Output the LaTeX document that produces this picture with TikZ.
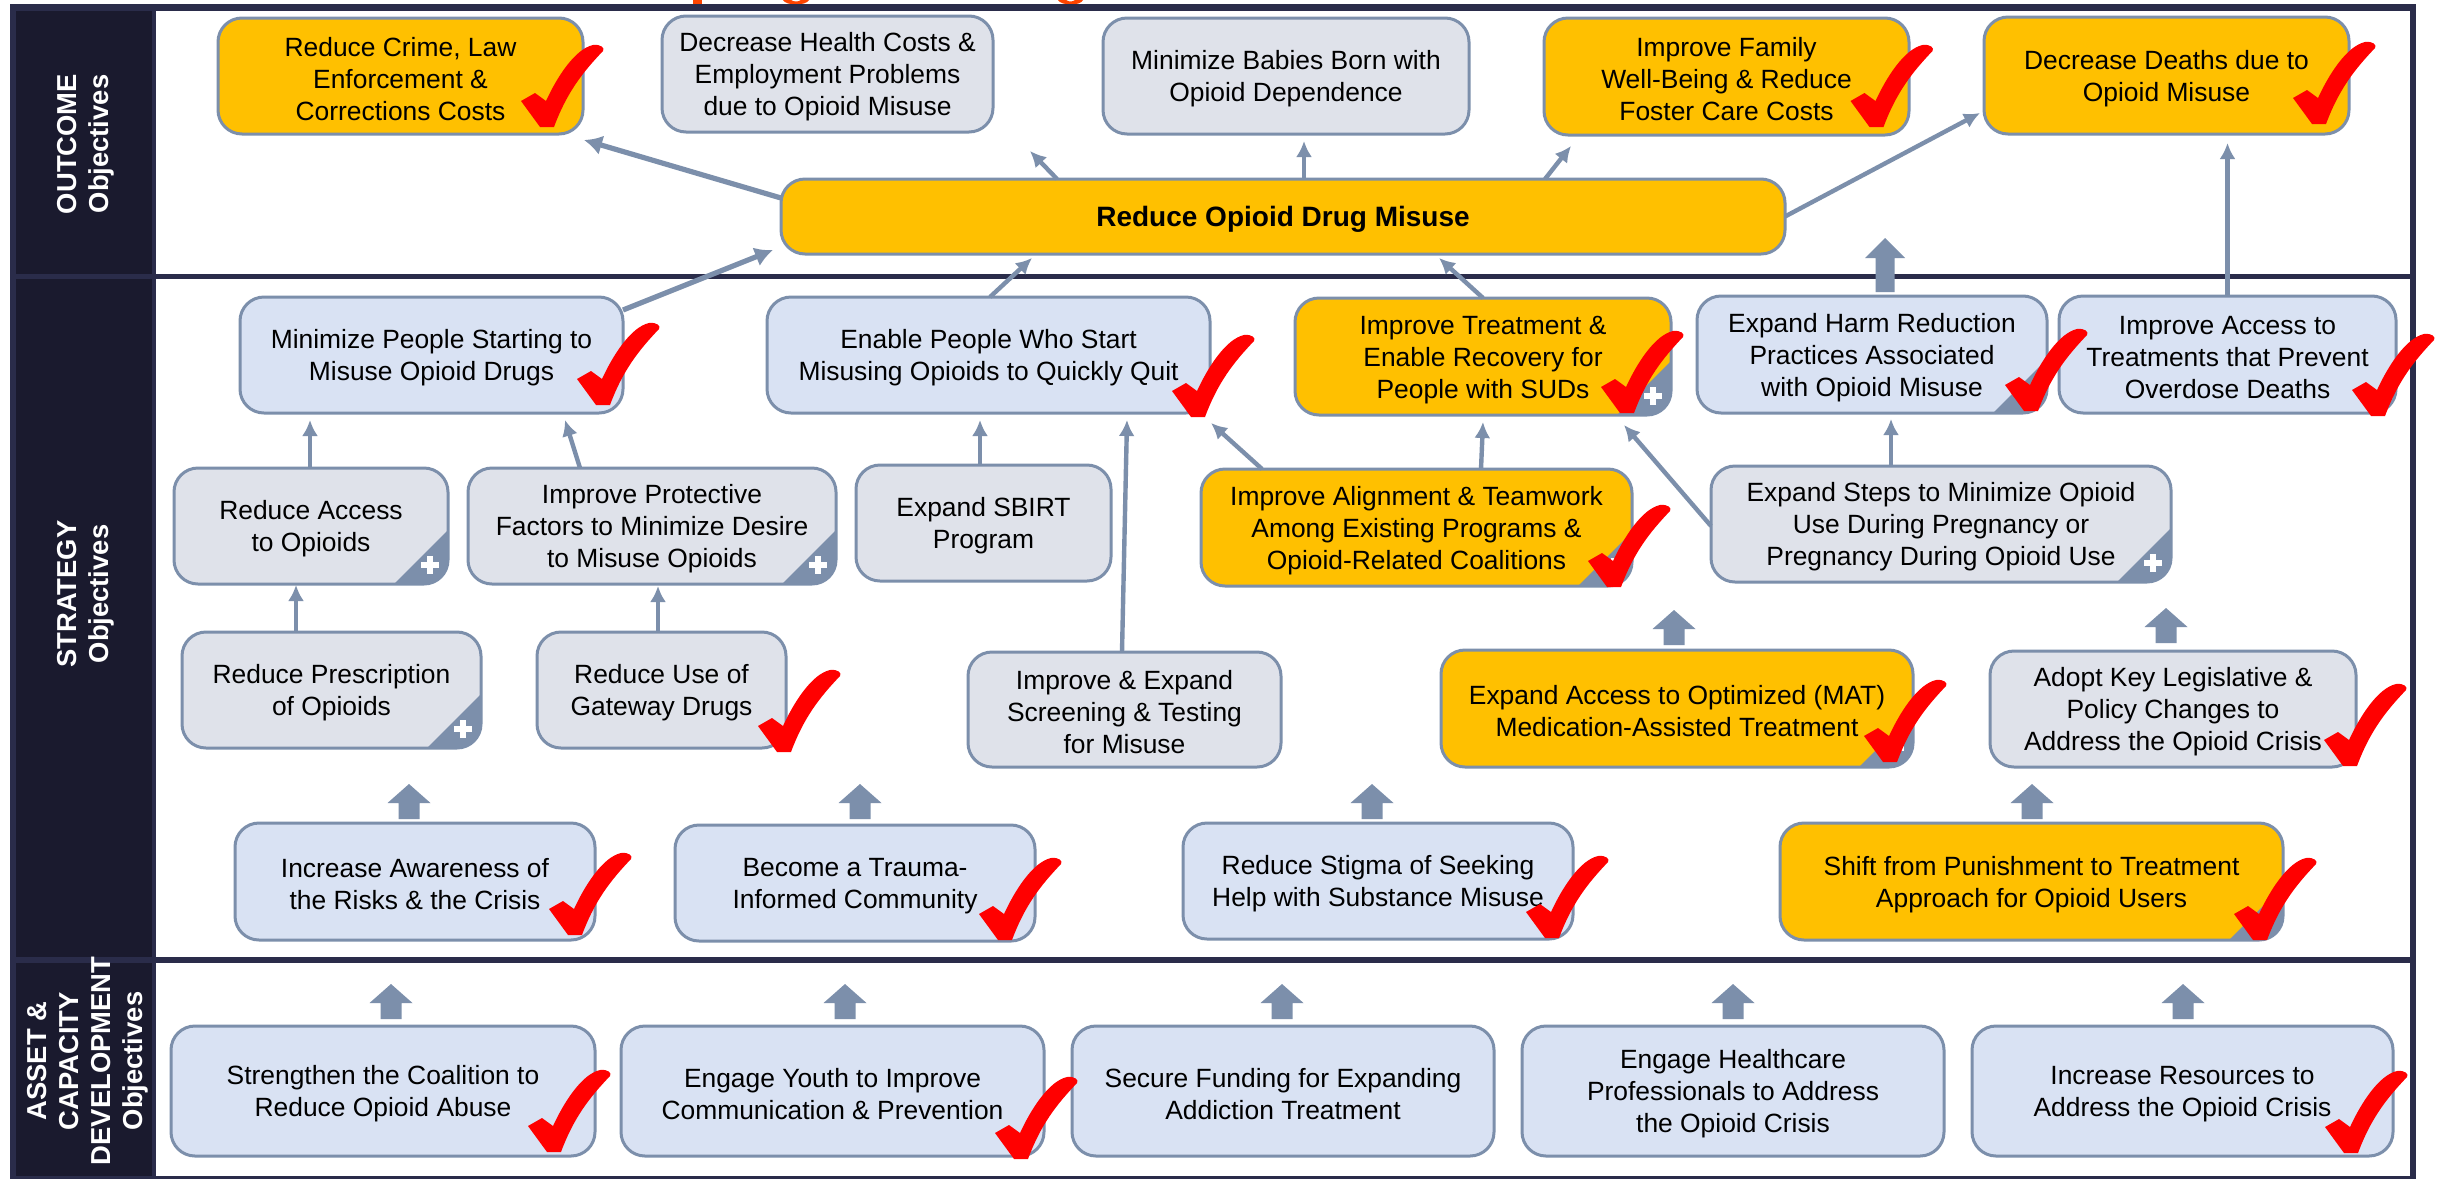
\documentclass[tikz,border=0pt]{standalone}
\usepackage{fontspec}
\setmainfont{Liberation Sans}
\usetikzlibrary{arrows.meta,calc}
\definecolor{edgeblue}{HTML}{7C8FAB}
\definecolor{fillblue}{HTML}{D9E2F3}
\definecolor{fillgrey}{HTML}{DFE2EA}
\definecolor{fillgold}{HTML}{FFC000}
\definecolor{sidedark}{HTML}{1A1A2E}
\definecolor{framedark}{HTML}{2A2C4A}
\definecolor{cutorange}{HTML}{FF4500}
\tikzset{
  x=0.5pt, y=-0.5pt,
  sz/.style 2 args={minimum width=#1*0.5pt, minimum height=#2*0.5pt},
  objbox/.style={draw=edgeblue, line width=1.5pt, rounded corners=12pt, inner sep=0pt, outer sep=0pt,
    align=center, text=black, font=\fontsize{13.2}{16}\selectfont},
  bluebox/.style={objbox, fill=fillblue},
  greybox/.style={objbox, fill=fillgrey},
  goldbox/.style={objbox, fill=fillgold},
  foldplus/.style={path picture={
    \fill[edgeblue, sharp corners] ([shift={(-54,0)}]path picture bounding box.south east)
      -- ([shift={(0,-54)}]path picture bounding box.south east)
      -- (path picture bounding box.south east) -- cycle;
    \fill[white, sharp corners] ([shift={(-27,-22)}]path picture bounding box.south east) rectangle ++(18,6);
    \fill[white, sharp corners] ([shift={(-21,-28)}]path picture bounding box.south east) rectangle ++(6,18);
  }},
  foldonly/.style={path picture={
    \fill[edgeblue, sharp corners] ([shift={(-54,0)}]path picture bounding box.south east)
      -- ([shift={(0,-54)}]path picture bounding box.south east)
      -- (path picture bounding box.south east) -- cycle;
  }},
  sidelabel/.style={rotate=90, align=center, text=white, inner sep=0pt,
    font=\fontsize{13.7}{16}\selectfont\bfseries},
  conn/.style={draw=edgeblue, line width=2.2pt, -{Latex[length=8pt,width=8pt]}},
  connw/.style={draw=edgeblue, line width=2.6pt, -{Latex[length=9pt,width=10pt]}},
  chk/.pic={
    \fill[red] (-7,0) -- (-26,-26) -- (-12,-34) -- (-1,-26)
      .. controls (10,-50) and (28,-78) .. (46,-82)
      .. controls (54,-83) and (58,-79) .. (56,-76)
      .. controls (36,-55) and (20,-35) .. (7,0) -- cycle;
  },
  blk/.pic={
    \fill[edgeblue] (0,0) -- (21.5,19) -- (10.5,19) -- (10.5,35) -- (-10.5,35) -- (-10.5,19) -- (-21.5,19) -- cycle;
  },
  bigblk/.pic={
    \fill[edgeblue] (0,0) -- (20,20) -- (9.5,20) -- (9.5,54) -- (-9.5,54) -- (-9.5,20) -- (-20,20) -- cycle;
  },
}
\begin{document}
\begin{tikzpicture}
\useasboundingbox (0,0) rectangle (2440,1179);
\fill[white] (0,0) rectangle (2440,1179);
% cut-off strokes of a title above the frame
\fill[cutorange] (693,0) rectangle (702,5);
\fill[cutorange] (783,0) .. controls (786,6) and (806,6) .. (809,0) -- (801,0) .. controls (798,2) and (794,2) .. (791,0) -- cycle;
\fill[cutorange] (1058,0) .. controls (1061,6) and (1081,6) .. (1083,0) -- (1075,0) .. controls (1072,2) and (1069,2) .. (1066,0) -- cycle;
% side bands and frame
\fill[sidedark] (16,10) rectangle (152,1177);
\fill[framedark] (152,10) rectangle (156,1177);
\fill[framedark] (10,4) rectangle (2416,10.5);
\fill[framedark] (10,4) rectangle (16,1179);
\fill[framedark] (2410,4) rectangle (2416,1179);
\fill[framedark] (10,1175.5) rectangle (2416,1179);
\fill[framedark] (16,273.5) rectangle (2410,279);
\fill[framedark] (16,957) rectangle (2410,962.5);
\node[sidelabel] (lout) at (86,144) {OUTCOME\\Objectives};
\node[sidelabel] (lstr) at (86,594) {STRATEGY\\Objectives};
\node[sidelabel] (lasset) at (88,1061) {ASSET \&\\CAPACITY\\DEVELOPMENT\\Objectives};
% outcome row
\node[goldbox, sz={365}{116}] (crime) at (400.5,76) {\\[-3.4pt]Reduce Crime, Law\\Enforcement \&\\Corrections Costs};
\node[greybox, sz={331}{116}] (health) at (827.5,74) {\\[-3.4pt]Decrease Health Costs \&\\Employment Problems\\due to Opioid Misuse};
\node[greybox, sz={366}{116}] (babies) at (1286,76) {\\[-3.4pt]Minimize Babies Born with\\Opioid Dependence};
\node[goldbox, sz={365}{117}] (family) at (1726.5,76.5) {\\[-3.4pt]Improve Family\\Well-Being \& Reduce\\Foster Care Costs};
\node[goldbox, sz={365}{117}] (deaths) at (2166.5,75.5) {\\[-3.4pt]Decrease Deaths due to\\Opioid Misuse};
\node[goldbox, sz={1004}{75}, font=\fontsize{14}{16}\selectfont\bfseries, execute at begin node={\rule{0pt}{13.2pt}}] (rod) at (1283,216.5) {Reduce Opioid Drug Misuse};
% strategy rows
\node[bluebox, sz={383}{116}] (minpeople) at (431.5,355) {\\[-3.4pt]Minimize People Starting to\\Misuse Opioid Drugs};
\node[bluebox, sz={443}{116}] (enable) at (988.5,355) {\\[-3.4pt]Enable People Who Start\\Misusing Opioids to Quickly Quit};
\node[goldbox, foldplus, sz={376}{117}] (treat) at (1483,356.5) {\\[-3.4pt]Improve Treatment \&\\Enable Recovery for\\People with SUDs};
\node[bluebox, foldplus, sz={350}{117}] (harm) at (1872,354.5) {\\[-3.4pt]Expand Harm Reduction\\Practices Associated\\with Opioid Misuse};
\node[bluebox, sz={337}{117}] (access) at (2227.5,354.5) {\\[-3.4pt]Improve Access to\\Treatments that Prevent\\Overdose Deaths};
\node[greybox, foldplus, sz={274}{116}] (redacc) at (311,526) {\\[-3.4pt]Reduce Access\\to Opioids};
\node[greybox, foldplus, sz={368}{116}] (protect) at (652,526) {\\[-3.4pt]Improve Protective\\Factors to Minimize Desire\\to Misuse Opioids};
\node[greybox, sz={255}{116}] (sbirt) at (983.5,523) {\\[-3.4pt]Expand SBIRT\\Program};
\node[goldbox, foldplus, sz={431}{117}] (align) at (1416.5,527.5) {\\[-3.4pt]Improve Alignment \& Teamwork\\Among Existing Programs \&\\Opioid-Related Coalitions};
\node[greybox, foldplus, sz={460}{116}] (steps) at (1941,524) {\\[-3.4pt]Expand Steps to Minimize Opioid\\Use During Pregnancy or\\Pregnancy During Opioid Use};
\node[greybox, foldplus, sz={299}{116}] (presc) at (331.5,690) {\\[-3.4pt]Reduce Prescription\\of Opioids};
\node[greybox, sz={249}{116}] (gate) at (661.5,690) {\\[-3.4pt]Reduce Use of\\Gateway Drugs};
\node[greybox, sz={313}{115}] (screen) at (1124.5,709.5) {\\[-3.4pt]Improve \& Expand\\Screening \& Testing\\for Misuse};
\node[goldbox, foldplus, sz={472}{117}] (mat) at (1677,708.5) {\\[-3.4pt]Expand Access to Optimized (MAT)\\Medication-Assisted Treatment};
\node[greybox, sz={366}{116}] (adopt) at (2173,709) {\\[-3.4pt]Adopt Key Legislative \&\\Policy Changes to\\Address the Opioid Crisis};
\node[bluebox, sz={360}{117}] (aware) at (415,881.5) {\\[-3.4pt]Increase Awareness of\\the Risks \& the Crisis};
\node[bluebox, sz={360}{116}] (trauma) at (855,883) {\\[-3.4pt]Become a Trauma-\\Informed Community};
\node[bluebox, sz={390}{116}] (stigma) at (1378,881) {\\[-3.4pt]Reduce Stigma of Seeking\\Help with Substance Misuse};
\node[goldbox, foldonly, sz={503}{117}] (shift) at (2031.5,881.5) {\\[-3.4pt]Shift from Punishment to Treatment\\Approach for Opioid Users};
% asset row
\node[bluebox, sz={424}{130}] (coal) at (383,1091) {\\[-3.4pt]Strengthen the Coalition to\\Reduce Opioid Abuse};
\node[bluebox, sz={423}{130}] (youth) at (832.5,1091) {\\[-3.4pt]Engage Youth to Improve\\Communication \& Prevention};
\node[bluebox, sz={422}{130}] (fund) at (1283,1091) {\\[-3.4pt]Secure Funding for Expanding\\Addiction Treatment};
\node[bluebox, sz={422}{130}] (hc) at (1733,1091) {\\[-3.4pt]Engage Healthcare\\Professionals to Address\\the Opioid Crisis};
\node[bluebox, sz={421}{130}] (res) at (2182.5,1091) {\\[-3.4pt]Increase Resources to\\Address the Opioid Crisis};
% connectors
\draw[connw] ([shift={(0,19)}]rod.north west) -- ([shift={(1,6)}]crime.south east);
\draw[conn] ([shift={(276,0)}]rod.north west) -- ([shift={(37,19)}]health.south east);
\draw[conn] ([shift={(21,0)}]rod.north) -- ([shift={(18,7)}]babies.south);
\draw[conn] ([shift={(-240,0)}]rod.north east) -- ([shift={(27,11)}]family.south west);
\draw[conn] (rod.east) -- ([shift={(-4,-21)}]deaths.south west);
\draw[conn] (access.north) -- ([shift={(61,9)}]deaths.south);
\draw[connw] ([shift={(0,13)}]minpeople.north east) -- ([shift={(-8,-4)}]rod.south west);
\draw[conn] ([shift={(1.5,0)}]enable.north) -- ([shift={(251,4)}]rod.south west);
\draw[conn] (treat.north) -- ([shift={(-346,4)}]rod.south east);
\draw[conn] ([shift={(-1,0)}]redacc.north) -- ([shift={(70,7)}]minpeople.south west);
\draw[conn] ([shift={(112,0)}]protect.north west) -- ([shift={(-58,7)}]minpeople.south east);
\draw[conn] ([shift={(-3.5,0)}]sbirt.north) -- ([shift={(-8.5,7)}]enable.south);
\draw[conn] ([shift={(61,0)}]align.north west) -- ([shift={(1,10)}]enable.south east);
\draw[conn] ([shift={(280,0)}]align.north west) -- ([shift={(0,7)}]treat.south);
\draw[conn] ([shift={(0,2)}]steps.west) -- ([shift={(-47,10)}]treat.south east);
\draw[conn] ([shift={(-50,0)}]steps.north) -- ([shift={(19,6)}]harm.south);
\draw[conn] ([shift={(-35.5,0)}]presc.north) -- ([shift={(-15,1)}]redacc.south);
\draw[conn] ([shift={(-3.5,0)}]gate.north) -- ([shift={(6,2)}]protect.south);
\draw[conn] ([shift={(-2.5,0)}]screen.north) -- ([shift={(-83,7)}]enable.south east);
% block arrows
\pic at (391,984) {blk};
\pic at (845,984) {blk};
\pic at (1282,984) {blk};
\pic at (1733,984) {blk};
\pic at (2183,984) {blk};
\pic at (409,784) {blk};
\pic at (860,784) {blk};
\pic at (1372,784) {blk};
\pic at (2032,784) {blk};
\pic at (1674,610) {blk};
\pic at (2166,608) {blk};
\pic at (1885,238) {bigblk};
% check marks
\pic at (547,127) {chk};
\pic at (1876.5,127) {chk};
\pic at (2319,124) {chk};
\pic at (603,405) {chk};
\pic at (1198,417) {chk};
\pic at (1627,413) {chk};
\pic at (2031,411) {chk};
\pic at (2378,416) {chk};
\pic at (1614,587) {chk};
\pic at (784,752) {chk};
\pic at (1890,762) {chk};
\pic at (2350,766) {chk};
\pic at (575,935) {chk};
\pic at (1005,940) {chk};
\pic at (1552,938) {chk};
\pic at (2260,940) {chk};
\pic at (554,1152) {chk};
\pic at (1021,1159) {chk};
\pic at (2351,1153) {chk};
\end{tikzpicture}
\end{document}
